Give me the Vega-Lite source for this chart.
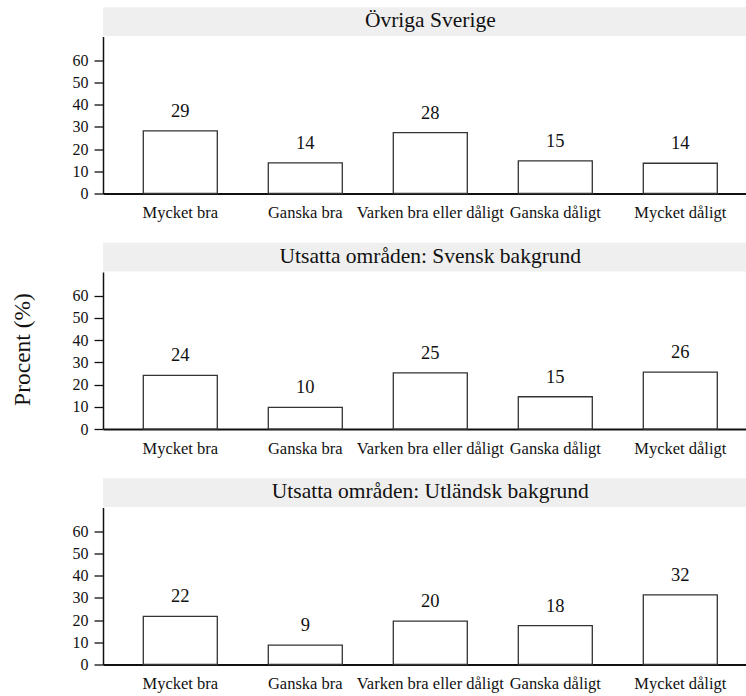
{
  "$schema": "https://vega.github.io/schema/vega-lite/v6.json",
  "padding": {"left": 10, "top": 6.5, "right": 0, "bottom": 0},
  "background": "white",
  "data": {
    "values": [
      {"panel": "Övriga Sverige", "cat": "Mycket bra", "value": 28.2, "label": "29"},
      {"panel": "Övriga Sverige", "cat": "Ganska bra", "value": 13.8, "label": "14"},
      {"panel": "Övriga Sverige", "cat": "Varken bra eller dåligt", "value": 27.4, "label": "28"},
      {"panel": "Övriga Sverige", "cat": "Ganska dåligt", "value": 14.7, "label": "15"},
      {"panel": "Övriga Sverige", "cat": "Mycket dåligt", "value": 13.6, "label": "14"},
      {"panel": "Utsatta områden: Svensk bakgrund", "cat": "Mycket bra", "value": 24.1, "label": "24"},
      {"panel": "Utsatta områden: Svensk bakgrund", "cat": "Ganska bra", "value": 9.7, "label": "10"},
      {"panel": "Utsatta områden: Svensk bakgrund", "cat": "Varken bra eller dåligt", "value": 25.2, "label": "25"},
      {"panel": "Utsatta områden: Svensk bakgrund", "cat": "Ganska dåligt", "value": 14.5, "label": "15"},
      {"panel": "Utsatta områden: Svensk bakgrund", "cat": "Mycket dåligt", "value": 25.6, "label": "26"},
      {"panel": "Utsatta områden: Utländsk bakgrund", "cat": "Mycket bra", "value": 21.6, "label": "22"},
      {"panel": "Utsatta områden: Utländsk bakgrund", "cat": "Ganska bra", "value": 8.7, "label": "9"},
      {"panel": "Utsatta områden: Utländsk bakgrund", "cat": "Varken bra eller dåligt", "value": 19.5, "label": "20"},
      {"panel": "Utsatta områden: Utländsk bakgrund", "cat": "Ganska dåligt", "value": 17.5, "label": "18"},
      {"panel": "Utsatta områden: Utländsk bakgrund", "cat": "Mycket dåligt", "value": 31.3, "label": "32"}
    ]
  },
  "facet": {
    "row": {
      "field": "panel",
      "type": "nominal",
      "sort": ["Övriga Sverige", "Utsatta områden: Svensk bakgrund", "Utsatta områden: Utländsk bakgrund"],
      "header": {"labels": false, "titleFont": "Liberation Serif, DejaVu Serif, serif", "titleFontSize": 23.5, "titleFontWeight": "normal", "titleColor": "#111", "titlePadding": 28},
      "title": "Procent (%)"
    }
  },
  "spacing": {"row": 20.5},
  "resolve": {"axis": {"x": "independent"}},
  "spec": {
    "width": 643,
    "height": 157,
    "layer": [
      {
        "transform": [{"filter": "datum.cat === 'Mycket bra'"}],
        "mark": {"type": "rect", "fill": "#efefef", "stroke": null, "clip": false},
        "encoding": {
          "y": {"datum": 83.8, "type": "quantitative", "scale": {"domain": [0, 70.6]}, "axis": {"title": null, "values": [0, 10, 20, 30, 40, 50, 60]}},
          "y2": {"datum": 70.8}
        }
      },
      {
        "transform": [{"filter": "datum.cat === 'Mycket bra'"}],
        "mark": {"type": "text", "font": "Liberation Serif, DejaVu Serif, serif", "fontSize": 21.5, "baseline": "middle", "align": "center", "color": "#111", "clip": false},
        "encoding": {
          "x": {"datum": "Varken bra eller dåligt", "type": "nominal", "sort": ["Mycket bra", "Ganska bra", "Varken bra eller dåligt", "Ganska dåligt", "Mycket dåligt"], "scale": {"paddingInner": 0.408, "paddingOuter": 0.276, "align": 0.584}, "title": null},
          "y": {"datum": 77.35, "type": "quantitative", "scale": {"domain": [0, 70.6]}, "axis": {"title": null, "values": [0, 10, 20, 30, 40, 50, 60]}},
          "text": {"field": "panel"}
        }
      },
      {
        "mark": {"type": "bar", "fill": "white", "stroke": "#333", "strokeWidth": 1.3},
        "encoding": {
          "x": {"field": "cat", "type": "nominal", "sort": ["Mycket bra", "Ganska bra", "Varken bra eller dåligt", "Ganska dåligt", "Mycket dåligt"], "scale": {"paddingInner": 0.408, "paddingOuter": 0.276, "align": 0.584}, "title": null},
          "y": {"field": "value", "type": "quantitative", "scale": {"domain": [0, 70.6]}, "axis": {"title": null, "values": [0, 10, 20, 30, 40, 50, 60]}}
        }
      },
      {
        "mark": {"type": "text", "font": "Liberation Serif, DejaVu Serif, serif", "dy": -20, "fontSize": 18.5, "baseline": "middle", "color": "#111"},
        "encoding": {
          "x": {"field": "cat", "type": "nominal", "sort": ["Mycket bra", "Ganska bra", "Varken bra eller dåligt", "Ganska dåligt", "Mycket dåligt"], "scale": {"paddingInner": 0.408, "paddingOuter": 0.276, "align": 0.584}, "title": null},
          "y": {"field": "value", "type": "quantitative", "scale": {"domain": [0, 70.6]}, "axis": {"title": null, "values": [0, 10, 20, 30, 40, 50, 60]}},
          "text": {"field": "label"}
        }
      }
    ]
  },
  "config": {
    "font": "Liberation Serif, DejaVu Serif, serif",
    "view": {"stroke": null},
    "axisX": {
      "ticks": false,
      "tickSize": 0,
      "domainColor": "#111",
      "domainWidth": 2,
      "labelFont": "Liberation Serif, DejaVu Serif, serif",
      "labelFontSize": 16.5,
      "labelPadding": 11,
      "labelAngle": 0,
      "labelColor": "#111",
      "labelOverlap": false,
      "grid": false
    },
    "axisY": {
      "domainColor": "#111",
      "domainWidth": 1.5,
      "tickColor": "#111",
      "tickWidth": 1.3,
      "tickSize": 9,
      "labelFont": "Liberation Serif, DejaVu Serif, serif",
      "labelFontSize": 16,
      "labelPadding": 6,
      "labelColor": "#111",
      "grid": false
    }
  }
}
